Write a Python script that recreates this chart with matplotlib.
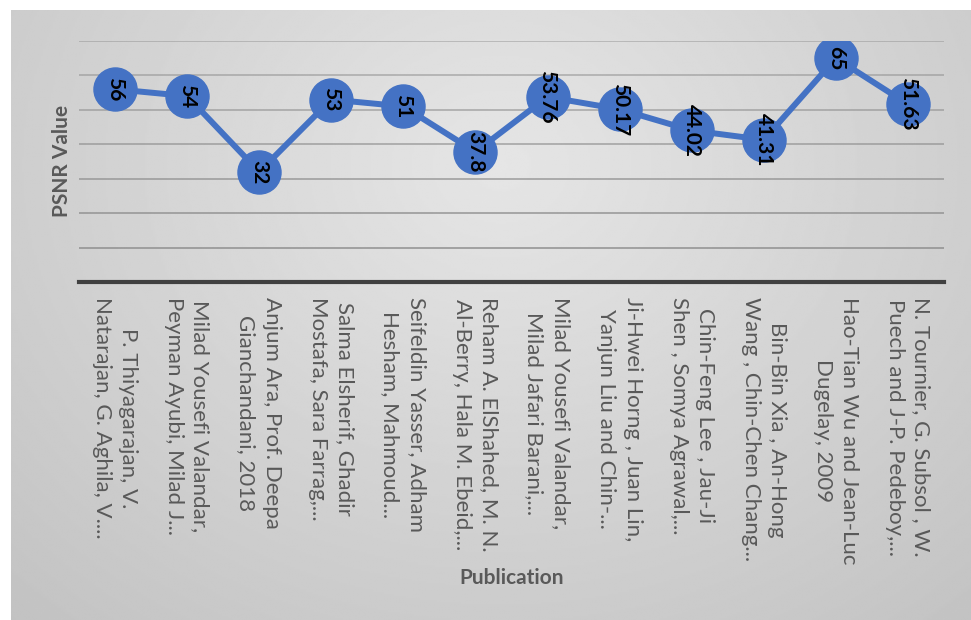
import numpy as np
import matplotlib
matplotlib.use("Agg")
from matplotlib import pyplot as plt

plt.rcParams['font.family'] = ['Lato', 'DejaVu Sans']

publications = [
    "P. Thiyagarajan, V.\nNatarajan, G. Aghila, V....",
    "Milad Yousefi Valandar,\nPeyman Ayubi, Milad J...",
    "Anjum Ara, Prof. Deepa\nGianchandani, 2018",
    "Salma Elsherif, Ghadir\nMostafa, Sara Farrag,...",
    "Seifeldin Yasser, Adham\nHesham, Mahmoud...",
    "Reham A. ElShahed, M. N.\nAl-Berry, Hala M. Ebeid,...",
    "Milad Yousefi Valandar,\nMilad Jafari Barani,...",
    "Ji-Hwei Horng , Juan Lin,\nYanjun Liu and Chin-...",
    "Chin-Feng Lee , Jau-Ji\nShen , Somya Agrawal,...",
    "Bin-Bin Xia , An-Hong\nWang , Chin-Chen Chang...",
    "Hao-Tian Wu and Jean-Luc\nDugelay, 2009",
    "N. Tournier, G. Subsol , W.\nPuech and J-P. Pedeboy,...",
]
psnr = [56, 54, 32, 53, 51, 37.8, 53.76, 50.17, 44.02, 41.31, 65, 51.63]
psnr_text = ["56", "54", "32", "53", "51", "37.8", "53.76", "50.17", "44.02", "41.31", "65", "51.63"]

W, H = 971, 620
fig = plt.figure(figsize=(W / 100, H / 100), dpi=100, facecolor='white')

# gray gradient panel behind the chart
bg = fig.add_axes([11 / W, -0.02, (W - 11) / W + 0.02, (H - 10) / H + 0.02])
yy, xx = np.mgrid[0:1:300j, 0:1:480j]
dist = np.sqrt(((xx - 0.5) / 0.75) ** 2 + ((yy - 0.25) / 1.0) ** 2)
shade = 0.90 - 0.14 * np.clip(dist, 0, 1)
bg.imshow(shade, cmap='gray', vmin=0, vmax=1, aspect='auto', interpolation='bilinear')
bg.axis('off')

ax = fig.add_axes([79 / W, 1 - 282 / H, (944 - 79) / W, (282 - 41) / H])
ax.set_facecolor('none')
x = np.arange(len(psnr))
ax.plot(x, psnr, color='#4472C4', lw=4.3, marker='o', markersize=31,
        markerfacecolor='#4472C4', markeredgecolor='#4472C4', zorder=3,
        solid_capstyle='round')
for i, (v, t) in enumerate(zip(psnr, psnr_text)):
    ax.text(i, v, t, rotation=-90, ha='center', va='center', fontsize=15,
            fontweight='bold', color='black', zorder=4)

ax.set_xlim(-0.5, len(psnr) - 0.5)
ax.set_ylim(0, 70)
# gridlines get a bit darker towards the bottom, like the original
for k, g in enumerate(range(10, 71, 10)):
    ax.axhline(g, color='#8c8c8c', lw=1.4, alpha=0.75 - 0.05 * k, zorder=1)
ax.set_yticks([])
ax.set_xticks(x)
ax.set_xticklabels(publications, rotation=-90, ha='center', va='top',
                   multialignment='center', fontsize=16, color='#595959',
                   linespacing=1.4)
ax.tick_params(axis='x', length=0, pad=11)
for s in ['top', 'right', 'left']:
    ax.spines[s].set_visible(False)
ax.spines['bottom'].set_color('#404040')
ax.spines['bottom'].set_linewidth(3)

fig.text(62 / W, 1 - 161 / H, 'PSNR Value', rotation=90, ha='center', va='center',
         fontsize=15, fontweight='bold', color='#595959')
fig.text(512 / W, 1 - 578 / H, 'Publication', ha='center', va='center',
         fontsize=15, fontweight='bold', color='#595959')

fig.savefig('out.png', dpi=100)
